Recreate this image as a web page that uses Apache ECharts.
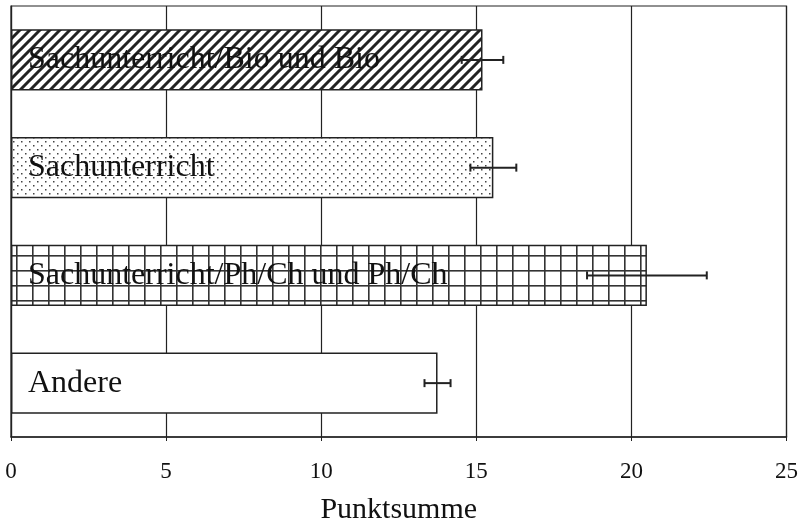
<!DOCTYPE html>
<html><head><meta charset="utf-8">
<script src="https://cdn.jsdelivr.net/npm/echarts@6/dist/echarts.min.js"></script>
<style>html,body{margin:0;padding:0;background:#fff}#c{width:801px;height:530px}</style>
</head><body><div id="c"></div>
<script>
const categories = ['Sachunterricht/Bio und Bio', 'Sachunterricht', 'Sachunterricht/Ph/Ch und Ph/Ch', 'Andere'];
const values = [15.2, 15.55, 20.5, 13.75];
const errors = [0.67, 0.74, 1.93, 0.42];
const xMin = 0, xMax = 25, xInterval = 5;
const axisTitle = 'Punktsumme';

function mk(w, h, draw) {
  const c = document.createElement('canvas'); c.width = w; c.height = h;
  const g = c.getContext('2d'); g.fillStyle = '#fff'; g.fillRect(0, 0, w, h); draw(g); return c;
}
const hatch = mk(10, 10, g => {
  g.strokeStyle = '#222'; g.lineWidth = 3; g.lineCap = 'square';
  g.beginPath();
  g.moveTo(-5, 15); g.lineTo(15, -5);
  g.moveTo(-15, 15); g.lineTo(5, -5);
  g.moveTo(5, 15); g.lineTo(25, -5);
  g.stroke();
});
const dots = mk(8, 8, g => {
  g.fillStyle = '#444';
  g.fillRect(1, 1, 1.5, 1.5);
  g.fillRect(5, 5, 1.5, 1.5);
});
const gridP = mk(16, 15, g => {
  g.fillStyle = '#333';
  g.fillRect(0, 0, 16, 1.6);
  g.fillRect(0, 0, 1.6, 15);
});
const patterns = [
  {image: hatch, repeat: 'repeat'},
  {image: dots, repeat: 'repeat'},
  {image: gridP, repeat: 'repeat'},
  '#fff'
];

const chart = echarts.init(document.getElementById('c'));
const serif = '"Liberation Serif", "DejaVu Serif", serif';
chart.setOption({
  animation: false,
  grid: {left: 11, right: 13, top: 6, bottom: 89, show: true, borderColor: '#222', borderWidth: 1.2, containLabel: false},
  xAxis: {
    type: 'value', min: xMin, max: xMax, interval: xInterval,
    name: axisTitle, nameLocation: 'middle', nameGap: 58,
    nameTextStyle: {fontFamily: serif, fontSize: 30, color: '#111'},
    axisLine: {show: true, lineStyle: {color: '#222', width: 1.5}},
    axisTick: {show: true, length: 4, lineStyle: {color: '#222'}},
    axisLabel: {fontFamily: serif, fontSize: 23, color: '#111', margin: 23},
    splitLine: {show: true, lineStyle: {color: '#222', width: 1.2}}
  },
  yAxis: {
    type: 'category', data: categories, inverse: true,
    axisLine: {show: true, lineStyle: {color: '#222', width: 1.2}},
    axisTick: {show: false}, axisLabel: {show: false}, splitLine: {show: false}
  },
  series: [{
    type: 'bar', barWidth: '57%',
    data: values.map((v, i) => ({value: v, itemStyle: {color: patterns[i]}})),
    itemStyle: {borderColor: '#222', borderWidth: 1.5},
    label: {
      show: true, position: 'insideLeft', distance: 17,
      formatter: p => categories[p.dataIndex],
      fontFamily: serif, fontSize: 32, color: '#111'
    },
    z: 2
  }, {
    type: 'custom',
    data: values.map((v, i) => [i, v - errors[i], v + errors[i]]),
    encode: {x: [1, 2], y: 0},
    renderItem: (params, api) => {
      const lo = api.coord([api.value(1), api.value(0)]);
      const hi = api.coord([api.value(2), api.value(0)]);
      const h = 4;
      const st = {stroke: '#222', lineWidth: 2};
      return {type: 'group', children: [
        {type: 'line', shape: {x1: lo[0], y1: lo[1], x2: hi[0], y2: hi[1]}, style: st},
        {type: 'line', shape: {x1: lo[0], y1: lo[1] - h, x2: lo[0], y2: lo[1] + h}, style: st},
        {type: 'line', shape: {x1: hi[0], y1: hi[1] - h, x2: hi[0], y2: hi[1] + h}, style: st}
      ]};
    },
    z: 5
  }]
});
</script></body></html>
